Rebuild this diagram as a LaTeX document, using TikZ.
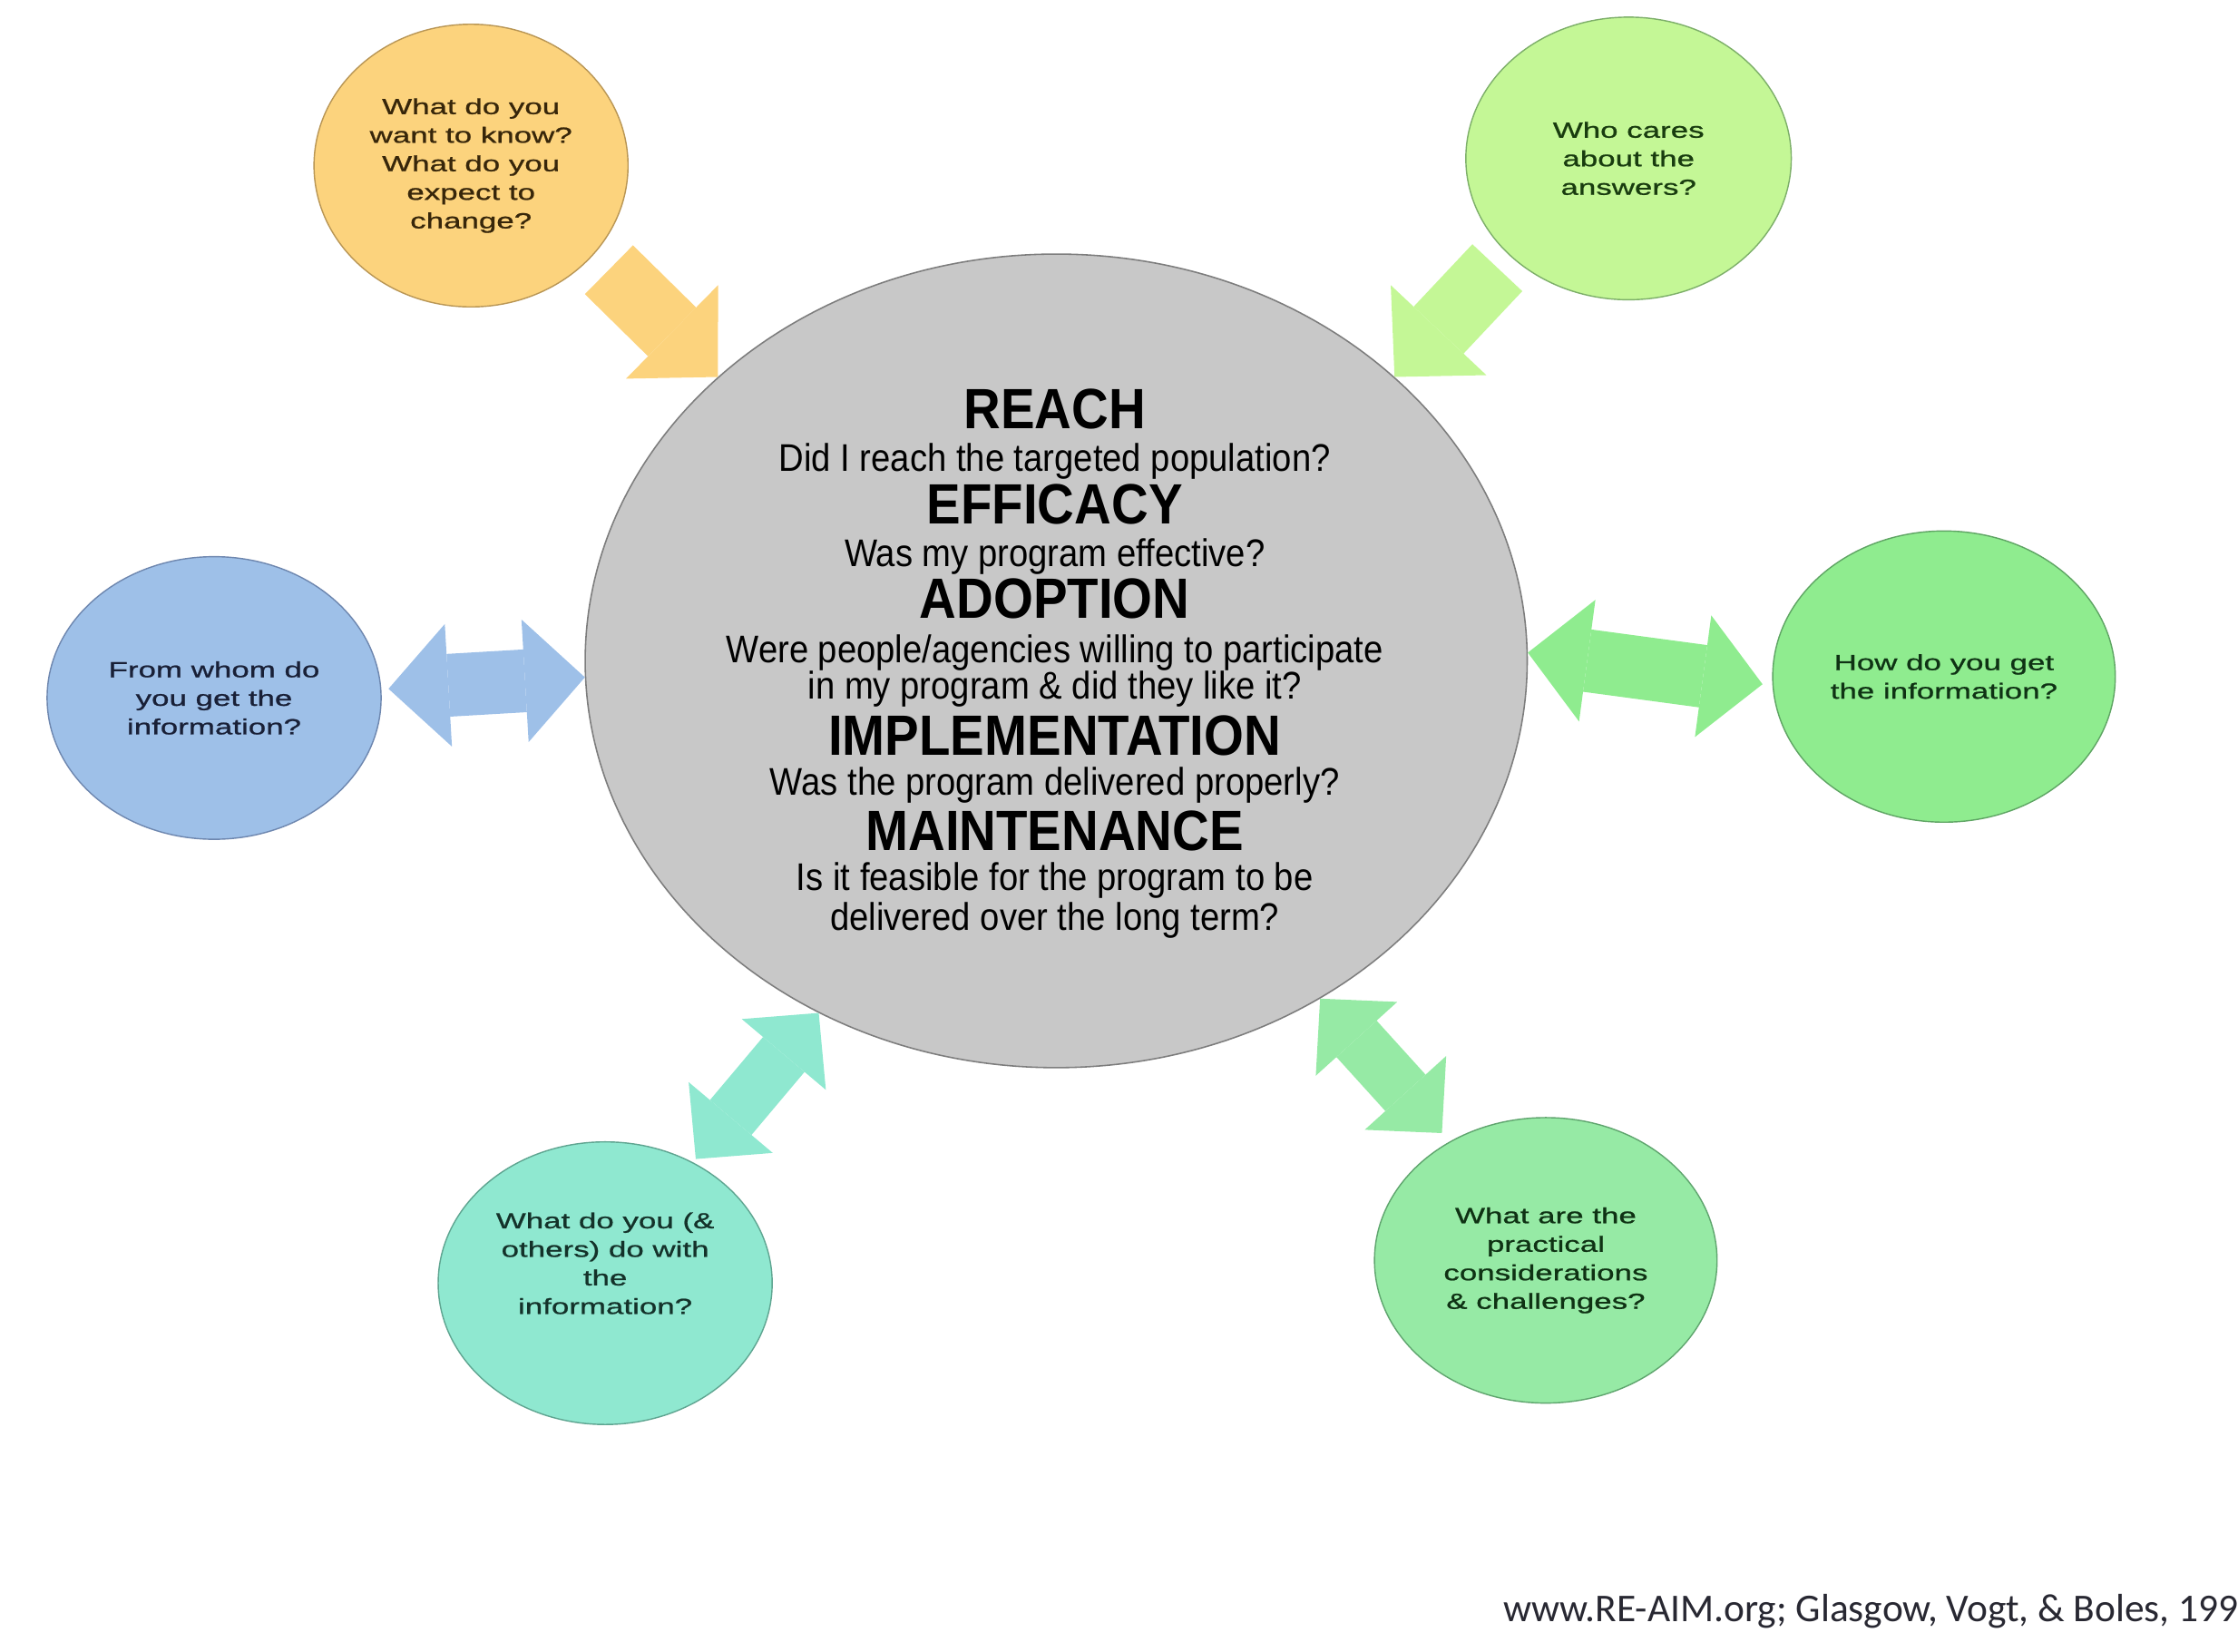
\documentclass[tikz,border=0pt]{standalone}
\usepackage{fontspec}
\setmainfont{Liberation Sans}
\newfontfamily\corefont[FakeStretch=0.9]{Liberation Sans}
\newfontfamily\bubblefont[FakeStretch=1.45,FakeBold=0.9]{Liberation Sans}
\newfontfamily\citefont{Carlito}
\usetikzlibrary{shapes.geometric,arrows.meta}

\definecolor{coreFill}{RGB}{200,200,200}
\definecolor{coreEdge}{RGB}{125,125,125}
\definecolor{orangeFill}{RGB}{252,211,125}
\definecolor{orangeEdge}{RGB}{185,150,85}
\definecolor{orangeInk}{RGB}{55,38,10}
\definecolor{limeFill}{RGB}{196,247,150}
\definecolor{limeEdge}{RGB}{125,175,105}
\definecolor{limeInk}{RGB}{25,60,15}
\definecolor{blueFill}{RGB}{158,192,232}
\definecolor{blueEdge}{RGB}{110,135,175}
\definecolor{blueInk}{RGB}{25,32,55}
\definecolor{greenFill}{RGB}{143,236,143}
\definecolor{greenEdge}{RGB}{95,165,100}
\definecolor{greenInk}{RGB}{15,50,20}
\definecolor{tealFill}{RGB}{143,232,208}
\definecolor{tealEdge}{RGB}{95,165,145}
\definecolor{tealInk}{RGB}{20,50,42}
\definecolor{mintFill}{RGB}{150,234,165}
\definecolor{mintEdge}{RGB}{95,165,110}
\definecolor{citeInk}{RGB}{40,40,50}

\begin{document}
\begin{tikzpicture}[x=1pt,y=1pt,yscale=-1,xscale=1,
	bubble/.style={ellipse, inner sep=0pt, line width=0.9pt, align=center, font=\bubblefont\fontsize{15.3}{20}\selectfont},
	stage/.style={anchor=base, inner sep=0pt, font=\corefont\bfseries\fontsize{39.8}{40}\selectfont},
	stageq/.style={anchor=base, inner sep=0pt, font=\corefont\fontsize{27}{27}\selectfont},
	oneway/.style={line width=48pt, -{Triangle[length=45pt,width=92pt,line width=0pt]}},
	twoway/.style={line width=44pt, {Triangle[length=42pt,width=86pt,line width=0pt]}-{Triangle[length=42pt,width=86pt,line width=0pt]}},
	twowaylow/.style={line width=38pt, {Triangle[length=38pt,width=77pt,line width=0pt]}-{Triangle[length=38pt,width=77pt,line width=0pt]}}]
		\useasboundingbox (0,0) rectangle (1568,1157);
		% centre ellipse
		\draw (740,463) node [ellipse, draw=coreEdge, fill=coreFill, line width=1pt, minimum width=660pt, minimum height=570pt, inner sep=0pt] (core) {};
		\draw (739,300) node [stage] (reach) {REACH};
		\draw (739,330) node [stageq] (reachq) {Did I reach the targeted population?};
		\draw (739,367) node [stage] (efficacy) {EFFICACY};
		\draw (739,397) node [stageq] (efficacyq) {Was my program effective?};
		\draw (739,433) node [stage] (adoption) {ADOPTION};
		\draw (739,464) node [stageq] (adoptionq) {Were people/agencies willing to participate};
		\draw (739,490) node [stageq] (adoptionr) {in my program \& did they like it?};
		\draw (739,529) node [stage] (implement) {IMPLEMENTATION};
		\draw (739,557) node [stageq] (implementq) {Was the program delivered properly?};
		\draw (739,596) node [stage] (maintain) {MAINTENANCE};
		\draw (739,624) node [stageq] (maintainq) {Is it feasible for the program to be};
		\draw (739,652) node [stageq] (maintainr) {delivered over the long term?};
		% question bubbles
		\draw (330,116) node [bubble, draw=orangeEdge, fill=orangeFill, text=orangeInk, minimum width=220pt, minimum height=198pt] (know) {What do you\\want to know?\\What do you\\expect to\\change?};
		\draw (1141,111) node [bubble, draw=limeEdge, fill=limeFill, text=limeInk, minimum width=228pt, minimum height=198pt] (care) {Who cares\\about the\\answers?};
		\draw (150,489) node [bubble, draw=blueEdge, fill=blueFill, text=blueInk, minimum width=234pt, minimum height=198pt] (whom) {From whom do\\you get the\\information?};
		\draw (1362,474) node [bubble, draw=greenEdge, fill=greenFill, text=greenInk, minimum width=240pt, minimum height=204pt] (how) {How do you get\\the information?};
		\draw (424,899) node [bubble, draw=tealEdge, fill=tealFill, text=tealInk, minimum width=234pt, minimum height=198pt] (others) {What do you (\&\\others) do with\\the\\information?\\[8pt]};
		\draw (1083,883) node [bubble, draw=mintEdge, fill=mintFill, text=greenInk, minimum width=240pt, minimum height=200pt] (practical) {What are the\\practical\\considerations\\\& challenges?};
		% block arrows
		\draw [oneway, draw=orangeFill, shorten <=15pt] (know.-36) -- (core.140);
		\draw [oneway, draw=limeFill, shorten <=12pt] (care.219) -- (core.40);
		\draw [twoway, draw=blueFill, shorten <=5pt] (whom.3) -- (core.182);
		\draw [twoway, draw=greenFill, shorten >=7pt] (core.1) -- (how.183);
		\draw [twowaylow, draw=tealFill, shorten <=3pt] (others.54) -- (core.236);
		\draw [twowaylow, draw=mintFill, shorten >=8pt] (core.-52) -- (practical.129);
		% source line, runs off the right edge
		\draw (1053,1136) node [anchor=base west, inner sep=0pt, text=citeInk, font=\citefont\fontsize{27.6}{30}\selectfont] (cite) {www.RE-AIM.org; Glasgow, Vogt, \& Boles, 1999};
\end{tikzpicture}
\end{document}
